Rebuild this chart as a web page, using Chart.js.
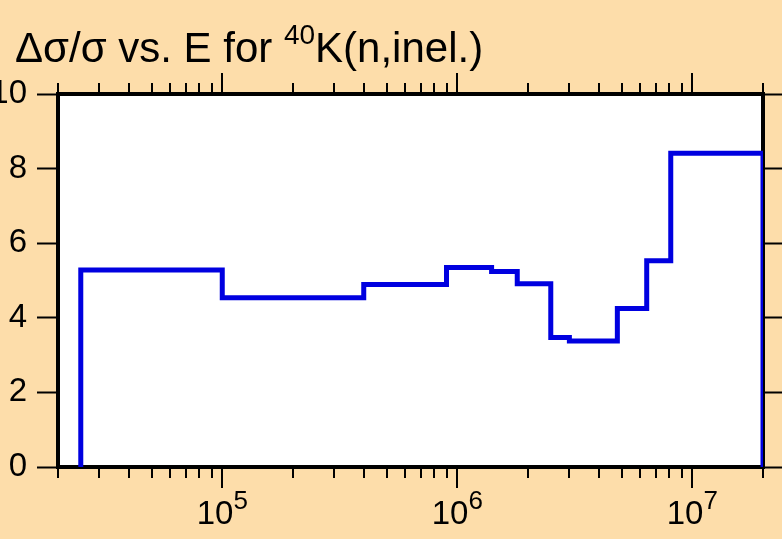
<!DOCTYPE html>
<html>
<head>
<meta charset="utf-8">
<script src="https://cdn.jsdelivr.net/npm/chart.js@4"></script>
<style>
  html, body { margin: 0; padding: 0; background: #FDDDAA; }
  #wrap { width: 782px; height: 539px; }
</style>
</head>
<body>
<div id="wrap"><canvas id="chart" width="782" height="539"></canvas></div>
<script>
// bin edges (eV) and relative uncertainty (%) in each bin
const binEdges = [2.5e4, 1e5, 4e5, 9e5, 1.4e6, 1.8e6, 2.5e6, 3e6, 4.8e6, 6.4e6, 8.1e6, 2e7];
const binValues = [5.28, 4.54, 4.89, 5.35, 5.24, 4.91, 3.47, 3.38, 4.25, 5.53, 8.41];

const yTicks = [0, 2, 4, 6, 8, 10];
const xMajorTicks = [1e5, 1e6, 1e7];
const xMajorExp = [5, 6, 7];
const xMinorTicks = [2e4, 3e4, 4e4, 5e4, 6e4, 7e4, 8e4, 9e4,
  2e5, 3e5, 4e5, 5e5, 6e5, 7e5, 8e5, 9e5,
  2e6, 3e6, 4e6, 5e6, 6e6, 7e6, 8e6, 9e6, 2e7];

const FONT = "'Liberation Sans', Arial, sans-serif";

// histogram outline: up from zero, across each bin, back down at the end
const points = [{ x: binEdges[0], y: 0 }];
binValues.forEach((v, i) => points.push({ x: binEdges[i], y: v }));
points.push({ x: binEdges[binEdges.length - 1], y: binValues[binValues.length - 1] });
points.push({ x: binEdges[binEdges.length - 1], y: 0 });

const frame = {
  id: "frame",
  beforeDatasetsDraw(chart) {
    const { ctx, chartArea: a } = chart;
    ctx.save();
    ctx.fillStyle = "#fff";
    ctx.fillRect(a.left, a.top, a.right - a.left, a.bottom - a.top);
    ctx.strokeStyle = "#000";
    ctx.lineWidth = 4;
    ctx.strokeRect(a.left, a.top, a.right - a.left, a.bottom - a.top);
    ctx.restore();
  },
  afterDraw(chart) {
    const { ctx, chartArea: a } = chart;
    const xs = chart.scales.x;
    ctx.save();
    ctx.strokeStyle = "#000";
    ctx.lineWidth = 2;
    const tick = (v, len) => {
      const px = Math.round(xs.getPixelForValue(v));
      ctx.beginPath();
      ctx.moveTo(px, a.bottom + 2); ctx.lineTo(px, a.bottom + len);
      ctx.moveTo(px, a.top - 2); ctx.lineTo(px, a.top - len);
      ctx.stroke();
    };
    xMinorTicks.forEach(v => tick(v, 11));
    xMajorTicks.forEach(v => tick(v, 21));

    // x labels 10^n
    ctx.fillStyle = "#000";
    ctx.textBaseline = "alphabetic";
    ctx.textAlign = "left";
    xMajorTicks.forEach((v, i) => {
      const base = "10", sup = String(xMajorExp[i]);
      ctx.font = "33px " + FONT;
      const wb = ctx.measureText(base).width;
      ctx.font = "26px " + FONT;
      const ws = ctx.measureText(sup).width;
      const x0 = xs.getPixelForValue(v) - (wb + ws) / 2;
      ctx.font = "33px " + FONT;
      ctx.fillText(base, x0, 524);
      ctx.font = "26px " + FONT;
      ctx.fillText(sup, x0 + wb, 509);
    });

    // title with superscript mass number
    let x = 15;
    ctx.font = "42px " + FONT;
    ctx.fillText("\u0394\u03c3/\u03c3 vs. E for ", x, 62);
    x += ctx.measureText("\u0394\u03c3/\u03c3 vs. E for ").width;
    ctx.font = "28px " + FONT;
    ctx.fillText("40", x, 44);
    x += ctx.measureText("40").width;
    ctx.font = "42px " + FONT;
    ctx.fillText("K(n,inel.)", x, 62);
    ctx.restore();
  }
};

const hidden = {
  grid: { display: false },
  ticks: { display: false },
  border: { display: false }
};

new Chart(document.getElementById("chart"), {
  type: "line",
  data: {
    datasets: [{
      data: points,
      stepped: true,
      borderColor: "#0000E0",
      borderWidth: 5,
      borderJoinStyle: "miter",
      pointRadius: 0,
      fill: false
    }]
  },
  options: {
    responsive: false,
    animation: false,
    layout: { padding: 0 },
    plugins: {
      legend: { display: false },
      tooltip: { enabled: false },
      title: { display: false }
    },
    scales: {
      x: {
        type: "logarithmic", position: "bottom", min: 2e4, max: 2e7, ...hidden,
        afterFit: s => { s.height = 72; }
      },
      xTop: {
        type: "logarithmic", position: "top", min: 2e4, max: 2e7, ...hidden,
        afterFit: s => { s.height = 94; }
      },
      y: {
        position: "left", min: 0, max: 10,
        afterBuildTicks: s => { s.ticks = yTicks.map(v => ({ value: v })); },
        ticks: { color: "#000", padding: 10, font: { family: FONT, size: 33 } },
        grid: { drawOnChartArea: false, tickLength: 21, tickWidth: 2, tickColor: "#000" },
        border: { display: false },
        afterFit: s => { s.width = 58; }
      },
      yRight: {
        position: "right", min: 0, max: 10,
        afterBuildTicks: s => { s.ticks = yTicks.map(v => ({ value: v })); },
        ticks: { display: false },
        grid: { drawOnChartArea: false, tickLength: 19, tickWidth: 2, tickColor: "#000" },
        border: { display: false },
        afterFit: s => { s.width = 19; }
      }
    }
  },
  plugins: [frame]
});
</script>
</body>
</html>
